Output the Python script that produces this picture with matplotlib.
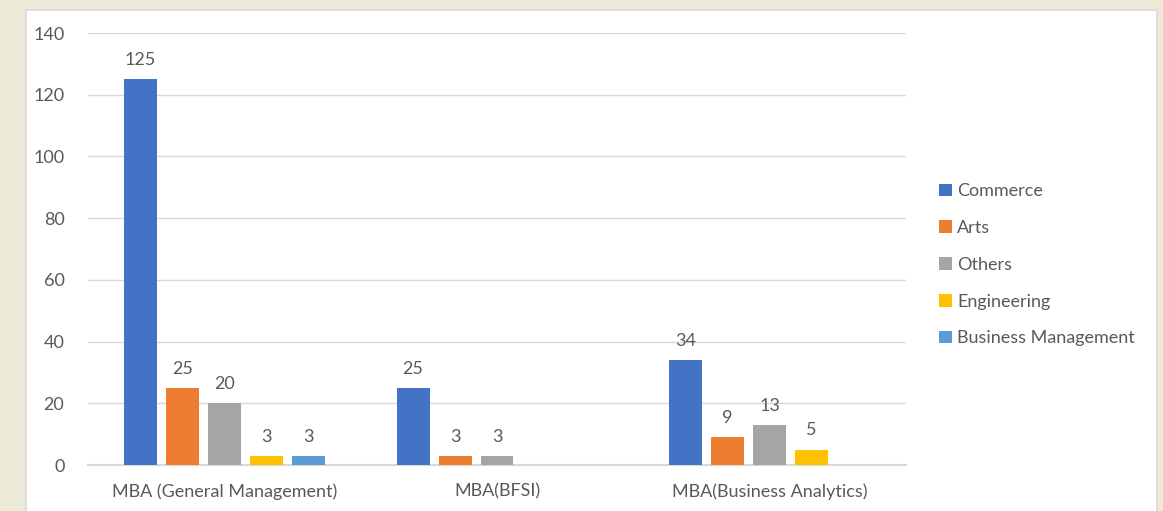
import numpy as np
import matplotlib.pyplot as plt
from matplotlib.patches import Rectangle

# data
programs = ['MBA (General Management)', 'MBA(BFSI)', 'MBA(Business Analytics)']
series = ['Commerce', 'Arts', 'Others', 'Engineering', 'Business Management']
values = {
    'Commerce': [125, 25, 34],
    'Arts': [25, 3, 9],
    'Others': [20, 3, 13],
    'Engineering': [3, None, 5],
    'Business Management': [3, None, None],
}
colors = ['#4472C4', '#ED7D31', '#A5A5A5', '#FFC000', '#5B9BD5']
yticks = [0, 20, 40, 60, 80, 100, 120, 140]

plt.rcParams['font.family'] = ['Lato', 'DejaVu Sans']
txt = '#595959'
fs = 13

fig = plt.figure(figsize=(11.63, 5.11), dpi=100)
fig.patch.set_facecolor('#ECE9D8')
# white chart panel
fig.patches.append(Rectangle((26 / 1163, -0.01), (1157 - 26) / 1163, (511 - 10) / 511 + 0.01,
                             transform=fig.transFigure, facecolor='white',
                             edgecolor='#D9D9D9', linewidth=1.2, zorder=-5))

ax = fig.add_axes([88 / 1163, 46 / 511, (906 - 88) / 1163, (465 - 33) / 511])
ax.set_facecolor('none')

x = np.arange(len(programs))
step = 0.154
width = 0.121
for i, (name, col) in enumerate(zip(series, colors)):
    off = (i - 2) * step
    for j, v in enumerate(values[name]):
        if v is None:
            continue
        ax.bar(x[j] + off, v, width, color=col, zorder=3,
               label=name if j == 0 else None)
        ax.text(x[j] + off, v + 3.6, str(v), ha='center', va='bottom',
                fontsize=fs, color=txt)

ax.set_xlim(-0.5, 2.5)
ax.set_ylim(0, 140)
ax.set_yticks(yticks)
ax.set_xticks(x)
ax.set_xticklabels(programs)
ax.tick_params(axis='both', length=0, labelsize=fs, labelcolor=txt)
ax.tick_params(axis='x', pad=13)
ax.tick_params(axis='y', pad=17)
ax.grid(axis='y', color='#D9D9D9', linewidth=1, zorder=0)
for s in ['top', 'right', 'left']:
    ax.spines[s].set_visible(False)
ax.spines['bottom'].set_color('#D9D9D9')
ax.spines['bottom'].set_linewidth(1.5)

leg = fig.legend(loc='upper left', bbox_to_anchor=(923 / 1163, 1 - 167 / 511),
                 frameon=False, fontsize=fs, handlelength=0.7, handleheight=0.7,
                 handletextpad=0.3, labelspacing=1.15, labelcolor=txt)

fig.savefig('out.png', dpi=100)
